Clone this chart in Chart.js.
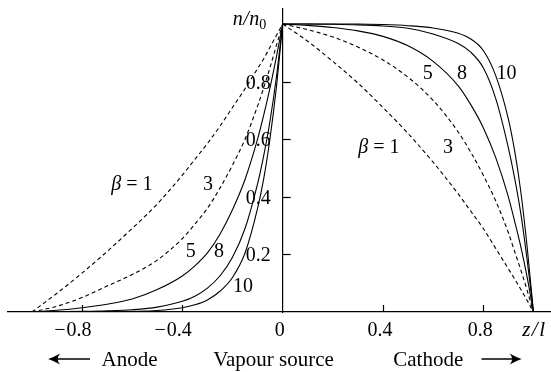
<!DOCTYPE html>
<html lang="en">
<head>
    <meta charset="UTF-8"/>
    <title>n/n0 profiles</title>
    <script src="https://cdn.jsdelivr.net/npm/chart.js@4.4.0/dist/chart.umd.min.js"></script>
    <style>
        html, body { margin: 0; padding: 0; background: #fff; }
    </style>
</head>
<body>
<canvas id="chart" width="551" height="372"></canvas>
<script>
    // z/l positions for the two halves
    const zLeft = [-1, -0.9, -0.8, -0.7, -0.6, -0.5, -0.4, -0.35, -0.3, -0.25, -0.2, -0.15, -0.1, -0.075, -0.05, -0.025, 0];
    const zRight = [0, 0.1, 0.2, 0.3, 0.4, 0.5, 0.6, 0.7, 0.75, 0.8, 0.85, 0.9, 0.925, 0.95, 0.975, 1];

    // n/n0, anode side
    const left1 = [0, 0.065, 0.135, 0.21, 0.29, 0.375, 0.475, 0.53, 0.585, 0.645, 0.71, 0.775, 0.845, 0.88, 0.92, 0.96, 1];
    const left3 = [0, 0.02, 0.05, 0.09, 0.13, 0.18, 0.255, 0.305, 0.36, 0.43, 0.51, 0.6, 0.715, 0.78, 0.85, 0.925, 1];
    const left5 = [0, 0.006, 0.015, 0.027, 0.045, 0.078, 0.125, 0.16, 0.205, 0.27, 0.355, 0.46, 0.6, 0.685, 0.78, 0.885, 1];
    const left8 = [0, 0.001, 0.002, 0.004, 0.008, 0.017, 0.037, 0.055, 0.083, 0.125, 0.19, 0.29, 0.445, 0.545, 0.665, 0.815, 1];
    const left10 = [0, 0, 0.001, 0.001, 0.002, 0.005, 0.015, 0.025, 0.042, 0.072, 0.12, 0.205, 0.36, 0.465, 0.605, 0.78, 1];

    // cathode side
    const right1 = [1, 0.94, 0.87, 0.795, 0.71, 0.62, 0.52, 0.41, 0.35, 0.29, 0.22, 0.15, 0.115, 0.078, 0.04, 0];
    const right3 = [1, 0.98, 0.955, 0.92, 0.875, 0.815, 0.735, 0.625, 0.555, 0.475, 0.385, 0.275, 0.21, 0.145, 0.075, 0];
    const right5 = [1, 0.995, 0.988, 0.976, 0.957, 0.924, 0.87, 0.785, 0.72, 0.64, 0.535, 0.4, 0.315, 0.225, 0.12, 0];
    const right8 = [1, 1, 0.999, 0.997, 0.993, 0.985, 0.965, 0.932, 0.902, 0.848, 0.74, 0.57, 0.465, 0.34, 0.18, 0];
    const right10 = [1, 1, 1, 1, 0.998, 0.994, 0.986, 0.968, 0.948, 0.908, 0.82, 0.67, 0.56, 0.415, 0.225, 0];

    const betas = [1, 3, 5, 8, 10];
    const leftN = [left1, left3, left5, left8, left10];
    const rightN = [right1, right3, right5, right8, right10];

    const xTickValues = [-0.8, -0.4, 0, 0.4, 0.8];
    const xTickLabels = ['\u22120.8', '\u22120.4', '0', '0.4', '0.8'];
    const yTickValues = [0.2, 0.4, 0.6, 0.8];
    const yTickLabels = ['0.2', '0.4', '0.6', '0.8'];

    // curve labels (data coords of the text centre)
    const curveLabels = [
        {t: 'β = 1', x: -0.601, y: 0.448}, {t: '3', x: -0.298, y: 0.448},
        {t: '5', x: -0.366, y: 0.216}, {t: '8', x: -0.254, y: 0.216}, {t: '10', x: -0.158, y: 0.095},
        {t: '5', x: 0.579, y: 0.832}, {t: '8', x: 0.715, y: 0.832}, {t: '10', x: 0.893, y: 0.832},
        {t: 'β = 1', x: 0.384, y: 0.575}, {t: '3', x: 0.659, y: 0.575}
    ];

    const SERIF = '"Liberation Serif", "Times New Roman", serif';

    const datasets = [];
    betas.forEach((b, i) => {
        [[zLeft, leftN[i]], [zRight, rightN[i]]].forEach(([xs, ys]) => {
            datasets.push({
                label: 'β = ' + b,
                data: xs.map((x, k) => ({x: x, y: ys[k]})),
                borderColor: '#000',
                borderWidth: 1.1,
                borderDash: b < 5 ? [4, 3] : [],
                pointRadius: 0,
                cubicInterpolationMode: 'monotone',
                fill: false
            });
        });
    });

    function seg(ctx, x1, y1, x2, y2) {
        ctx.beginPath();
        ctx.moveTo(x1, y1);
        ctx.lineTo(x2, y2);
        ctx.stroke();
    }

    function arrow(ctx, tail, tip, y) {
        const d = tip > tail ? 1 : -1;
        ctx.lineWidth = 1.6;
        seg(ctx, tail, y, tip - d * 4, y);
        ctx.beginPath();
        ctx.moveTo(tip, y);
        ctx.quadraticCurveTo(tip - d * 6, y - 2, tip - d * 12, y - 5.5);
        ctx.quadraticCurveTo(tip - d * 7, y, tip - d * 12, y + 5.5);
        ctx.quadraticCurveTo(tip - d * 6, y + 2, tip, y);
        ctx.fill();
    }

    const extras = {
        id: 'extras',
        afterDraw(chart) {
            const {ctx, scales: {x, y}} = chart;
            const x0 = x.getPixelForValue(0), y0 = y.getPixelForValue(0);
            ctx.save();
            ctx.strokeStyle = '#000';
            ctx.fillStyle = '#000';
            ctx.lineWidth = 1.2;

            // inward tick marks
            yTickValues.forEach(v => {
                const py = Math.round(y.getPixelForValue(v)) + 0.5;
                seg(ctx, x0, py, x0 + 8, py);
            });
            xTickValues.forEach(v => {
                if (v === 0) return;
                const px = Math.round(x.getPixelForValue(v)) + 0.5;
                seg(ctx, px, y0, px, y0 - 7);
            });

            // tick labels
            ctx.font = '20px ' + SERIF;
            ctx.textBaseline = 'alphabetic';
            ctx.textAlign = 'right';
            yTickValues.forEach((v, i) => {
                ctx.fillText(yTickLabels[i], x0 - 12, y.getPixelForValue(v) + 7);
            });
            xTickValues.forEach((v, i) => {
                let s = xTickLabels[i];
                const px = x.getPixelForValue(v) - 3;
                let minus = '';
                if (s.charAt(0) === '\u2212') { minus = '\u2212'; s = s.slice(1); }
                ctx.textAlign = 'center';
                ctx.fillText(s, px, y0 + 24);
                if (minus) {
                    ctx.textAlign = 'right';
                    ctx.fillText(minus, px - ctx.measureText(s).width / 2 - 1, y0 + 24);
                }
            });

            // curve labels
            curveLabels.forEach(l => {
                const cx = x.getPixelForValue(l.x), cy = y.getPixelForValue(l.y) + 7;
                ctx.textAlign = 'left';
                if (l.t.charAt(0) === 'β') {
                    const rest = l.t.slice(1);
                    ctx.font = 'italic 20px ' + SERIF;
                    const wb = ctx.measureText('β').width;
                    ctx.font = '20px ' + SERIF;
                    const wr = ctx.measureText(rest).width;
                    const sx = cx - (wb + wr) / 2;
                    ctx.font = 'italic 20px ' + SERIF;
                    ctx.fillText('β', sx, cy);
                    ctx.font = '20px ' + SERIF;
                    ctx.fillText(rest, sx + wb, cy);
                } else {
                    ctx.font = '20px ' + SERIF;
                    ctx.textAlign = 'center';
                    ctx.fillText(l.t, cx, cy);
                }
            });

            // axis titles
            ctx.textAlign = 'left';
            ctx.font = 'italic 20px ' + SERIF;
            let ax = x0 - 50;
            ctx.fillText('n', ax, 25);
            ax += ctx.measureText('n').width + 0.5;
            ctx.fillText('/', ax, 25);
            ax += ctx.measureText('/').width + 0.5;
            ctx.fillText('n', ax, 25);
            ax += ctx.measureText('n').width;
            ctx.font = '14px ' + SERIF;
            ctx.fillText('0', ax, 28.5);

            ctx.font = 'italic 21px ' + SERIF;
            let zx = x.getPixelForValue(0.955);
            ctx.fillText('z', zx, y0 + 24);
            zx += ctx.measureText('z').width + 1.5;
            ctx.fillText('/', zx, y0 + 24);
            zx += ctx.measureText('/').width + 1.5;
            ctx.fillText('l', zx, y0 + 24);

            // electrode captions
            const by = y0 + 54;
            ctx.font = '21px ' + SERIF;
            ctx.fillText('Anode', x.getPixelForValue(-0.722), by);
            ctx.fillText('Vapour source', x.getPixelForValue(-0.277), by);
            ctx.fillText('Cathode', x.getPixelForValue(0.441), by);
            arrow(ctx, x.getPixelForValue(-0.768), x.getPixelForValue(-0.935), by - 7);
            arrow(ctx, x.getPixelForValue(0.793), x.getPixelForValue(0.953), by - 7);
            ctx.restore();
        }
    };

    const axisGrid = {display: true, drawOnChartArea: false, drawTicks: false};
    const axisBorder = {display: true, color: '#000', width: 1.2};

    new Chart(document.getElementById('chart'), {
        type: 'line',
        data: {datasets: datasets},
        options: {
            responsive: false,
            animation: false,
            devicePixelRatio: 1,
            layout: {padding: {left: 8, right: 1, top: 9, bottom: 60}},
            plugins: {legend: {display: false}, tooltip: {enabled: false}},
            scales: {
                x: {
                    type: 'linear', min: -1.095, max: 1.066, position: {y: 0},
                    ticks: {display: false}, grid: axisGrid, border: axisBorder
                },
                y: {
                    type: 'linear', min: 0, max: 1.052, position: {x: 0},
                    ticks: {display: false}, grid: axisGrid, border: axisBorder
                }
            }
        },
        plugins: [extras]
    });
</script>
</body>
</html>
